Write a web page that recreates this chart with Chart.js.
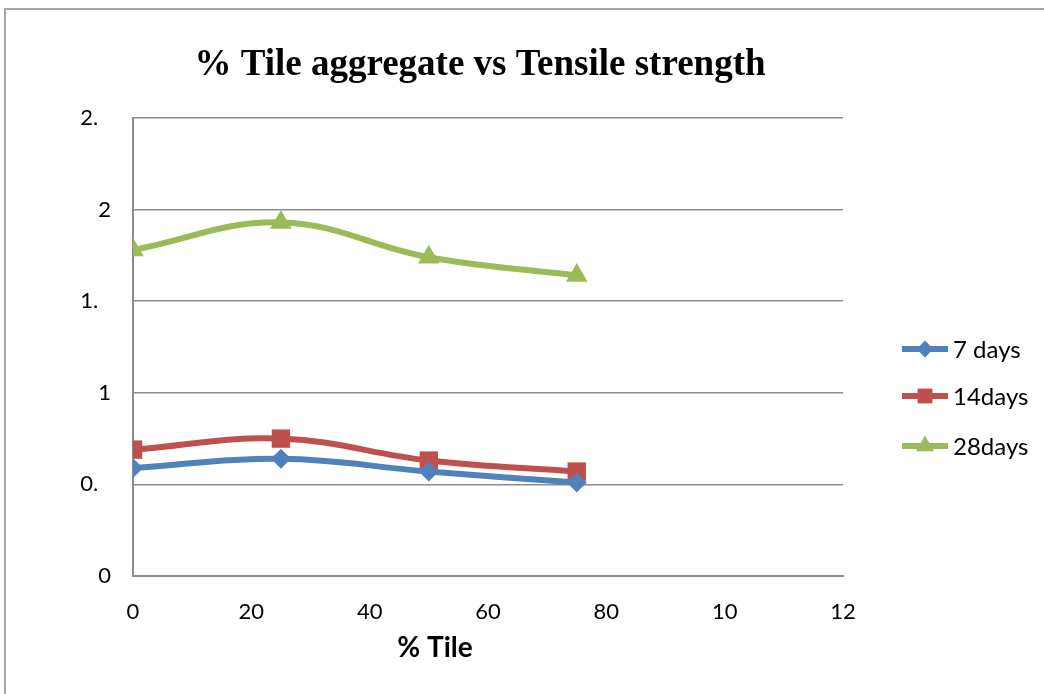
<!DOCTYPE html>
<html>
<head>
<meta charset="utf-8">
<script src="https://cdn.jsdelivr.net/npm/chart.js@4/dist/chart.umd.min.js"></script>
<style>
  body { margin: 0; background: #fff; overflow: hidden; }
  #wrap { position: relative; width: 1044px; height: 694px; }
  #frame { position: absolute; left: 4px; top: 8px; width: 1060px; height: 700px;
           border-left: 2px solid #a6a6a6; border-top: 2px solid #a6a6a6; pointer-events: none; }
  canvas { position: absolute; left: 0; top: 0; }
</style>
</head>
<body>
<div id="wrap">
  <canvas id="chart" width="1044" height="694"></canvas>
  <div id="frame"></div>
</div>
<script>
// data
const chartTitle = "% Tile aggregate vs Tensile strength";
const xAxisTitle = "% Tile";
const tilePercent = [0, 25, 50, 75];
const days7 = [0.59, 0.64, 0.57, 0.51];
const days14 = [0.69, 0.75, 0.63, 0.57];
const days28 = [1.78, 1.93, 1.74, 1.64];
const seriesLabels = ["7 days", "14days", "28days"];
// tick labels are cut off in the original, keep them as shown
const xTickLabels = ["0", "20", "40", "60", "80", "10", "12"];
const yTickLabels = ["0", "0.", "1", "1.", "2", "2."];

const colors = ["#4f81bd", "#c0504d", "#9bbb59"];
const styles = ["rectRot", "rect", "triangle"];
const radii = [10, 13, 12.5];
const legendRadii = [8.5, 10.5, 10.5];
const tickFont = { family: "Lato, 'Liberation Sans', sans-serif", size: 22 };

const toPoints = (vals) => vals.map((v, i) => ({ x: tilePercent[i], y: v }));

const datasets = [days7, days14, days28].map((vals, i) => ({
    label: seriesLabels[i],
    data: toPoints(vals),
    borderColor: colors[i],
    backgroundColor: colors[i],
    borderWidth: 6,
    tension: 0.4,
    pointStyle: styles[i],
    pointRadius: radii[i],
    pointHoverRadius: radii[i],
    pointBorderWidth: 0,
}));

// title, x axis title and legend drawn by hand so they sit where the original has them
const extras = {
    id: "extras",
    afterDraw(chart) {
        const ctx = chart.ctx;
        ctx.save();
        ctx.fillStyle = "#000";
        ctx.textAlign = "center";
        ctx.textBaseline = "alphabetic";
        ctx.font = "bold 37px 'Liberation Serif', serif";
        ctx.fillText(chartTitle, 480, 75);

        ctx.font = "bold 28px Lato, 'Liberation Sans', sans-serif";
        ctx.fillText(xAxisTitle, 435, 657);

        const legendY = [349, 396, 446];
        chart.data.datasets.forEach((ds, i) => {
            const y = legendY[i];
            ctx.strokeStyle = ds.borderColor;
            ctx.lineWidth = 6;
            ctx.beginPath();
            ctx.moveTo(902, y);
            ctx.lineTo(948, y);
            ctx.stroke();
            ctx.fillStyle = ds.backgroundColor;
            Chart.helpers.drawPoint(ctx, { pointStyle: ds.pointStyle, radius: legendRadii[i], rotation: 0, borderWidth: 0 }, 925, y);
            ctx.fillStyle = "#000";
            ctx.textAlign = "left";
            ctx.textBaseline = "middle";
            ctx.font = "24px Lato, 'Liberation Sans', sans-serif";
            ctx.fillText(ds.label, 953, y + 1);
        });
        ctx.restore();
    }
};

new Chart(document.getElementById("chart"), {
    type: "line",
    data: { datasets },
    options: {
        responsive: false,
        animation: false,
        devicePixelRatio: 1,
        layout: { padding: { left: 0, top: 118, right: 201, bottom: 0 } },
        plugins: { legend: { display: false }, title: { display: false }, tooltip: { enabled: false } },
        scales: {
            x: {
                type: "linear",
                min: 0,
                max: 120,
                afterFit: (s) => { s.height = 118; },
                grid: { display: false, drawTicks: false },
                border: { display: true, color: "#8c8c8c", width: 2 },
                ticks: {
                    stepSize: 20,
                    padding: 23,
                    color: "#000",
                    font: tickFont,
                    maxRotation: 0,
                    callback: (v, i) => xTickLabels[i],
                },
            },
            y: {
                min: 0,
                max: 2.5,
                afterFit: (s) => { s.width = 133; },
                grid: { color: "#8c8c8c", lineWidth: 1.5, drawTicks: false },
                border: { display: true, color: "#8c8c8c", width: 2 },
                ticks: {
                    stepSize: 0.5,
                    padding: 22,
                    color: "#000",
                    font: tickFont,
                    // the cut labels keep the room of their lost last digit
                    callback: (v, i) => yTickLabels[i].endsWith(".") ? yTickLabels[i] + "\u2007" : yTickLabels[i],
                },
            },
        },
    },
    plugins: [extras],
});
</script>
</body>
</html>
